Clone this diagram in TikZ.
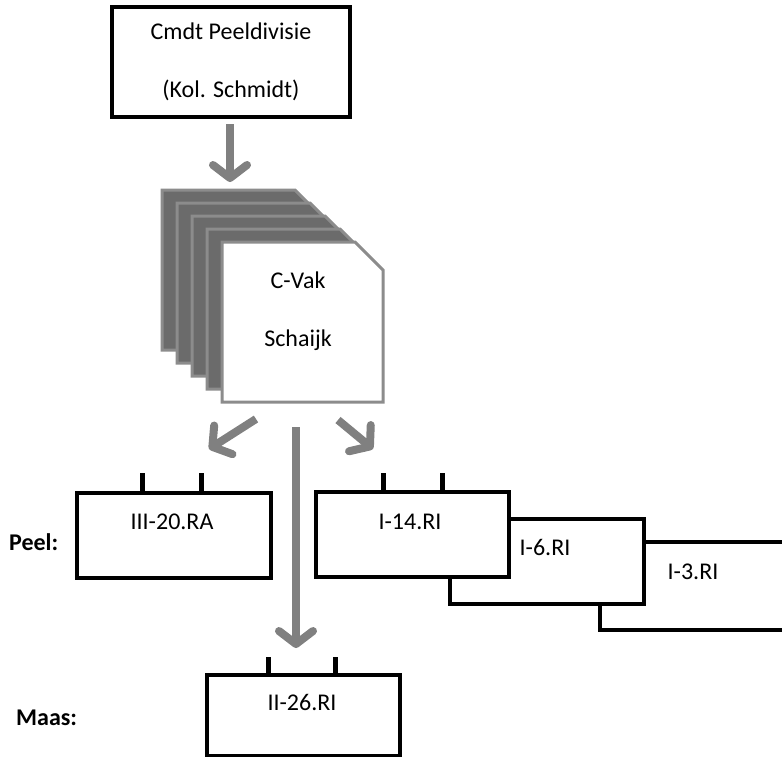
\documentclass[tikz,border=0pt]{standalone}
\usepackage{fontspec}
\setmainfont{Carlito}
\usetikzlibrary{arrows.meta}
\definecolor{arrowgray}{HTML}{808080}
\definecolor{pagefill}{HTML}{6B6B6B}
\definecolor{pageedge}{HTML}{8C8C8C}
\tikzset{
  unitbox/.style={draw=black, line width=4pt, fill=white, inner sep=0pt, anchor=north west},
  lbl/.style={inner sep=0pt, font=\fontsize{24}{29}\selectfont},
  sidelbl/.style={inner sep=0pt, font=\fontsize{24}{29}\selectfont\bfseries},
  tick/.style={line width=5pt, draw=black},
  bigarrow/.style={draw=arrowgray, line width=8pt, -{Straight Barb[length=13pt, width=34pt, round]}},
  darkpage/.style={fill=pagefill, draw=pageedge, line width=3pt, line join=miter},
  frontpage/.style={fill=white, draw=pageedge, line width=3pt, line join=miter}
}
\begin{document}
\begin{tikzpicture}[x=1pt, y=-1pt]
\useasboundingbox (0,0) rectangle (782,756);
\clip (0,0) rectangle (782,756);

% top box
\node[draw=black, line width=4pt, minimum width=238pt, minimum height=110pt, inner sep=0pt,
      align=center, font=\fontsize{24}{29}\selectfont] (cmdt) at (231,62)
  {Cmdt Peeldivisie\\[29pt](Kol. Schmidt)};

% page stack
\foreach \i in {0,...,3} {
  \path[darkpage] ({162+15*\i},{190+13*\i}) -- ++(133,0) -- ++(28,28) -- ++(0,132) -- ++(-161,0) -- cycle;
}
\path[frontpage] (222,242) -- (355,242) -- (383,270) -- (383,402) -- (222,402) -- cycle;
\node[lbl, align=center] (cvak) at (298,311) {C-Vak\\[29pt]Schaijk};

% arrows
\coordinate (a1s) at (230,124);
\coordinate (a1e) at (230,182);
\draw[bigarrow] (a1s) -- (a1e);
\coordinate (a2s) at (256,419);
\coordinate (a2e) at (209,449);
\draw[bigarrow] (a2s) -- (a2e);
\coordinate (a3s) at (338,420);
\coordinate (a3e) at (373,449);
\draw[bigarrow] (a3s) -- (a3e);
\coordinate (a4s) at (296,427);
\coordinate (a4e) at (296,648);
\draw[bigarrow] (a4s) -- (a4e);

% III-20.RA
\draw[tick] (142,473) -- (142,491);
\draw[tick] (201,473) -- (201,491);
\node[unitbox, minimum width=194pt, minimum height=85pt] (b320) at (75,491) {};
\node[lbl] (t320) at (172,522) {III-20.RA};

% I-3, I-6, I-14
\node[unitbox, minimum width=230pt, minimum height=88pt] (b13) at (598,540) {};
\node[lbl] (t13) at (693,572) {I-3.RI};
\node[unitbox, minimum width=194pt, minimum height=85pt] (b16) at (448,517) {};
\node[lbl] (t16) at (545,547) {I-6.RI};
\draw[tick] (383,473) -- (383,490);
\draw[tick] (442,473) -- (442,490);
\node[unitbox, minimum width=193pt, minimum height=85pt] (b114) at (314,490) {};
\node[lbl] (t114) at (410,522) {I-14.RI};

% II-26.RI
\draw[tick] (268,657) -- (268,673);
\draw[tick] (335,657) -- (335,673);
\node[unitbox, minimum width=193pt, minimum height=81pt] (b226) at (205,673) {};
\node[lbl] (t226) at (302,702) {II-26.RI};

% side labels
\node[sidelbl, anchor=west] (peel) at (9,542) {Peel:};
\node[sidelbl, anchor=west] (maas) at (16,718) {Maas:};
\end{tikzpicture}
\end{document}
